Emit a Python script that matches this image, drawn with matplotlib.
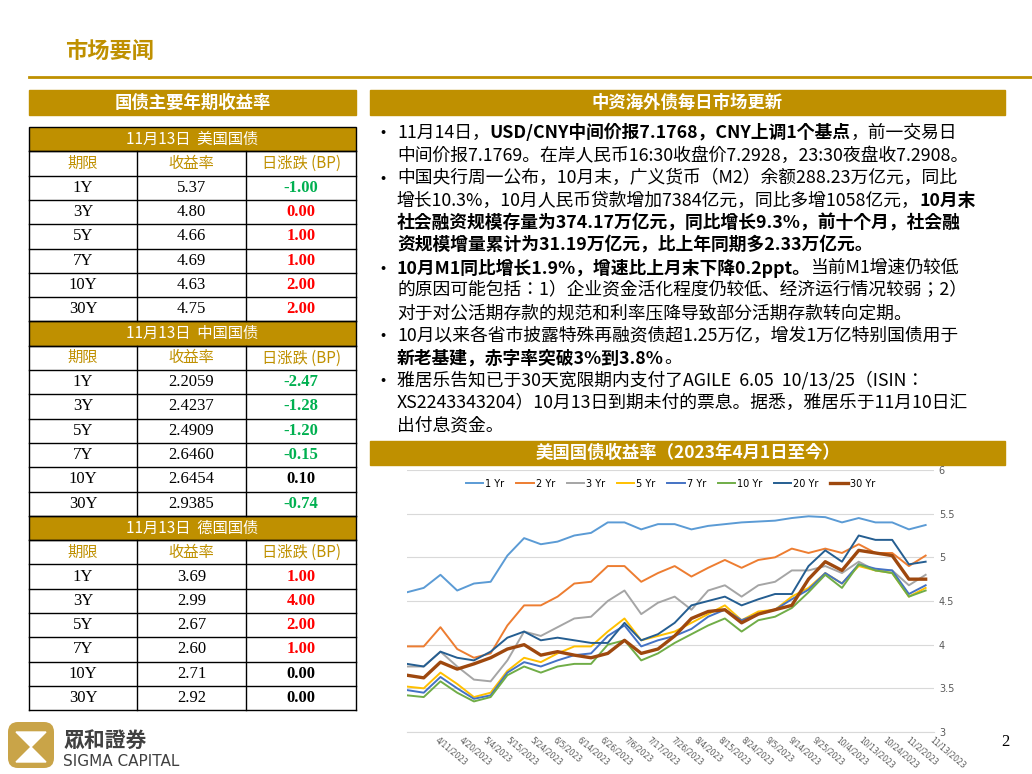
import numpy as np
import matplotlib.pyplot as plt
from matplotlib.patches import Rectangle, FancyBboxPatch, Polygon

GOLD = '#BF9000'
CJK = 'Noto Sans CJK JP'
SERIF = 'Liberation Serif'

# ---- 表格数据 ----
tenors_us = ['1Y', '3Y', '5Y', '7Y', '10Y', '30Y']
yld_us = ['5.37', '4.80', '4.66', '4.69', '4.63', '4.75']
chg_us = ['-1.00', '0.00', '1.00', '1.00', '2.00', '2.00']
col_us = ['g', 'r', 'r', 'r', 'r', 'r']

tenors_cn = ['1Y', '3Y', '5Y', '7Y', '10Y', '30Y']
yld_cn = ['2.2059', '2.4237', '2.4909', '2.6460', '2.6454', '2.9385']
chg_cn = ['-2.47', '-1.28', '-1.20', '-0.15', '0.10', '-0.74']
col_cn = ['g', 'g', 'g', 'g', 'k', 'g']

tenors_de = ['1Y', '3Y', '5Y', '7Y', '10Y', '30Y']
yld_de = ['3.69', '2.99', '2.67', '2.60', '2.71', '2.92']
chg_de = ['1.00', '4.00', '2.00', '1.00', '0.00', '0.00']
col_de = ['r', 'r', 'r', 'r', 'k', 'k']

# ---- 美债收益率曲线（约每周一个点，4/3/2023 - 11/13/2023） ----
dates = ['4/11/2023', '4/20/2023', '5/4/2023', '5/15/2023', '5/24/2023', '6/5/2023',
         '6/14/2023', '6/26/2023', '7/6/2023', '7/17/2023', '7/26/2023', '8/4/2023',
         '8/15/2023', '8/24/2023', '9/5/2023', '9/14/2023', '9/25/2023', '10/4/2023',
         '10/13/2023', '10/24/2023', '11/2/2023', '11/13/2023']
y1 = [4.60, 4.65, 4.80, 4.62, 4.70, 4.72, 5.02, 5.22, 5.15, 5.18, 5.25, 5.28, 5.40, 5.40, 5.32, 5.38,
      5.38, 5.32, 5.36, 5.38, 5.40, 5.41, 5.42, 5.45, 5.47, 5.46, 5.40, 5.45, 5.40, 5.40, 5.32, 5.37]
y2 = [3.98, 3.98, 4.20, 3.95, 3.85, 3.90, 4.22, 4.45, 4.45, 4.55, 4.70, 4.72, 4.90, 4.90, 4.72, 4.82,
      4.90, 4.78, 4.88, 4.97, 4.88, 4.97, 5.00, 5.10, 5.05, 5.10, 5.05, 5.15, 5.05, 5.05, 4.90, 5.02]
y3 = [3.75, 3.75, 3.92, 3.75, 3.60, 3.58, 3.82, 4.15, 4.10, 4.20, 4.30, 4.32, 4.50, 4.62, 4.35, 4.48,
      4.55, 4.40, 4.62, 4.68, 4.55, 4.68, 4.72, 4.85, 4.85, 4.90, 4.82, 4.95, 4.85, 4.85, 4.68, 4.80]
y5 = [3.52, 3.50, 3.68, 3.55, 3.40, 3.45, 3.70, 3.85, 3.80, 3.90, 3.98, 3.98, 4.15, 4.30, 4.05, 4.10,
      4.15, 4.25, 4.35, 4.45, 4.28, 4.38, 4.40, 4.55, 4.65, 4.82, 4.70, 4.90, 4.85, 4.82, 4.55, 4.65]
y7 = [3.48, 3.45, 3.63, 3.50, 3.38, 3.42, 3.68, 3.80, 3.75, 3.82, 3.88, 3.90, 4.10, 4.22, 3.98, 4.05,
      4.10, 4.18, 4.32, 4.40, 4.28, 4.35, 4.40, 4.52, 4.63, 4.82, 4.70, 4.92, 4.87, 4.85, 4.58, 4.68]
y10 = [3.42, 3.40, 3.58, 3.45, 3.35, 3.40, 3.65, 3.75, 3.68, 3.75, 3.78, 3.78, 4.00, 4.05, 3.82, 3.90,
       4.02, 4.12, 4.22, 4.30, 4.15, 4.28, 4.32, 4.42, 4.60, 4.80, 4.65, 4.92, 4.85, 4.82, 4.55, 4.62]
y20 = [3.78, 3.75, 3.92, 3.85, 3.82, 3.92, 4.08, 4.15, 4.05, 4.08, 4.05, 4.02, 4.02, 4.25, 4.05, 4.12,
       4.25, 4.45, 4.50, 4.55, 4.45, 4.52, 4.58, 4.58, 4.90, 5.08, 4.95, 5.25, 5.20, 5.20, 4.92, 4.95]
y30 = [3.65, 3.62, 3.80, 3.72, 3.78, 3.85, 3.95, 4.00, 3.88, 3.92, 3.88, 3.85, 3.90, 4.05, 3.90, 3.95,
       4.10, 4.30, 4.38, 4.40, 4.25, 4.35, 4.40, 4.45, 4.75, 4.95, 4.85, 5.08, 5.05, 5.02, 4.75, 4.75]
series = [('1 Yr', y1, '#5B9BD5'), ('2 Yr', y2, '#ED7D31'), ('3 Yr', y3, '#A5A5A5'),
          ('5 Yr', y5, '#FFC000'), ('7 Yr', y7, '#4472C4'), ('10 Yr', y10, '#70AD47'),
          ('20 Yr', y20, '#255E91'), ('30 Yr', y30, '#9E480E')]

# ---- 文字 ----
bullets = [
    [[('11月14日，', 0), ('USD/CNY中间价报7.1768，CNY上调1个基点', 1), ('，前一交易日', 0)],
     [('中间价报7.1769。在岸人民币16:30收盘价7.2928，23:30夜盘收7.2908。', 0)]],
    [[('中国央行周一公布，10月末，广义货币（M2）余额288.23万亿元，同比', 0)],
     [('增长10.3%，10月人民币贷款增加7384亿元，同比多增1058亿元，', 0), ('10月末', 1)],
     [('社会融资规模存量为374.17万亿元，同比增长9.3%，前十个月，社会融', 1)],
     [('资规模增量累计为31.19万亿元，比上年同期多2.33万亿元。', 1)]],
    [[('10月M1同比增长1.9%，增速比上月末下降0.2ppt。', 1), ('当前M1增速仍较低', 0)],
     [('的原因可能包括：1）企业资金活化程度仍较低、经济运行情况较弱；2）', 0)],
     [('对于对公活期存款的规范和利率压降导致部分活期存款转向定期。', 0)]],
    [[('10月以来各省市披露特殊再融资债超1.25万亿，增发1万亿特别国债用于', 0)],
     [('新老基建，赤字率突破3%到3.8%', 1), ('。', 0)]],
    [[('雅居乐告知已于30天宽限期内支付了AGILE  6.05  10/13/25（ISIN：', 0)],
     [('XS2243343204）10月13日到期未付的票息。据悉，雅居乐于11月10日汇', 0)],
     [('出付息资金。', 0)]],
]

fig = plt.figure(figsize=(10.32, 7.74), dpi=100)
ax = fig.add_axes([0, 0, 1, 1])
ax.set_xlim(0, 1032)
ax.set_ylim(774, 0)
ax.axis('off')

# 页头
ax.text(65, 52, '市场要闻', fontsize=16, fontweight='bold', color=GOLD, family=CJK, va='center')
ax.plot([29, 1032], [77, 77], color=GOLD, lw=2)

# 标题栏
def bar(x0, x1, y0, y1, txt):
    ax.add_patch(Rectangle((x0, y0), x1 - x0, y1 - y0, color=GOLD))
    ax.text((x0 + x1) / 2, (y0 + y1) / 2, txt, fontsize=12.5, fontweight='bold', color='white',
            family=CJK, ha='center', va='center')

bar(29, 356, 90, 115, '国债主要年期收益率')
bar(370, 1005, 90, 115, '中资海外债每日市场更新')
bar(370, 1005, 441, 465, '美国国债收益率（2023年4月1日至今）')

# 表格
cmap = {'g': '#00B050', 'r': '#FF0000', 'k': 'black'}
colx = [29, 137, 246, 356]
rh = 24.3

def table(top, title, tenors, ylds, chgs, cols):
    ax.add_patch(Rectangle((29, top), 327, rh, facecolor=GOLD, edgecolor='black', lw=1))
    ax.text(192, top + rh / 2, title, fontsize=11, color='white', family=CJK, ha='center', va='center')
    y = top + rh
    for i, h in enumerate(['期限', '收益率', '日涨跌 (BP)']):
        ax.text((colx[i] + colx[i + 1]) / 2, y + rh / 2, h, fontsize=11, color=GOLD, family=CJK,
                ha='center', va='center')
    rows = list(zip(tenors, ylds, chgs, cols))
    for j, (t, v, c, k) in enumerate(rows):
        yy = y + rh * (j + 1) + rh / 2
        ax.text((colx[0] + colx[1]) / 2, yy, t, fontsize=12, family=SERIF, ha='center', va='center')
        ax.text((colx[1] + colx[2]) / 2, yy, v, fontsize=12, family=SERIF, ha='center', va='center')
        ax.text((colx[2] + colx[3]) / 2, yy, c, fontsize=12, family=SERIF, fontweight='bold',
                color=cmap[k], ha='center', va='center')
    bottom = y + rh * (len(rows) + 1)
    for j in range(len(rows) + 2):
        ax.plot([29, 356], [y + rh * j, y + rh * j], color='black', lw=1)
    for x in colx:
        ax.plot([x, x], [y, bottom], color='black', lw=1)
    return bottom

b = table(127, '11月13日  美国国债', tenors_us, yld_us, chg_us, col_us)
b = table(b, '11月13日  中国国债', tenors_cn, yld_cn, chg_cn, col_cn)
b = table(b, '11月13日  德国国债', tenors_de, yld_de, chg_de, col_de)

# 要点文字
fig.canvas.draw()
r = fig.canvas.get_renderer()
ly = 133
for para in bullets:
    ax.text(380, ly, '•', fontsize=11, family=CJK, va='center')
    for line in para:
        x = 397
        for seg, bold in line:
            t = ax.text(x, ly, seg, fontsize=12.8, family=CJK,
                        fontweight='bold' if bold else 'normal', va='center')
            x += t.get_window_extent(r).width
        ly += 22.5

# 曲线图
cax = fig.add_axes([407 / 1032, 42 / 774, 527 / 1032, 262 / 774])
idx = np.arange(len(y1))
for name, vals, c in series:
    cax.plot(idx, vals, color=c, lw=2.4 if name == '30 Yr' else 1.4, label=name)
cax.set_xlim(0, len(y1) - 1)
cax.set_ylim(3, 6)
cax.set_yticks(np.arange(3, 6.01, 0.5))
cax.set_yticklabels(['3', '3.5', '4', '4.5', '5', '5.5', '6'])
cax.yaxis.tick_right()
cax.tick_params(axis='y', length=0, labelsize=7, colors='#595959')
cax.grid(axis='y', color='#D9D9D9', lw=0.8)
cax.set_xticks(np.linspace(1.95, 31.5, len(dates)))
cax.set_xticklabels(dates, rotation=-40, ha='left', va='top', fontsize=5.5, color='#595959',
                    rotation_mode='anchor')
cax.tick_params(axis='x', length=0, pad=2)
for s in ['top', 'left', 'right']:
    cax.spines[s].set_visible(False)
cax.spines['bottom'].set_color('#D9D9D9')
cax.legend(loc='upper center', ncol=8, frameon=False, fontsize=7, handlelength=1.8,
           columnspacing=1.2, handletextpad=0.2, bbox_to_anchor=(0.5, 1.0))

# 页码与标识
ax.text(1005, 742, '2', fontsize=12, family=SERIF, va='center', ha='center')
ax.add_patch(FancyBboxPatch((8, 722), 46, 46, boxstyle='round,pad=0,rounding_size=10',
                            facecolor='#C9A448', edgecolor='none'))
ax.add_patch(Polygon([[16, 732], [46, 732], [31, 747]], color='white'))
ax.add_patch(Polygon([[16, 762], [46, 762], [31, 747]], color='white'))
ax.text(63, 740, '眾和證券', fontsize=15, fontweight='bold', color='#404040', family=CJK,
        va='center')
ax.text(63, 762, 'SIGMA CAPITAL', fontsize=11, color='#404040', family='DejaVu Sans', va='center')

fig.savefig('out.png', dpi=100)
